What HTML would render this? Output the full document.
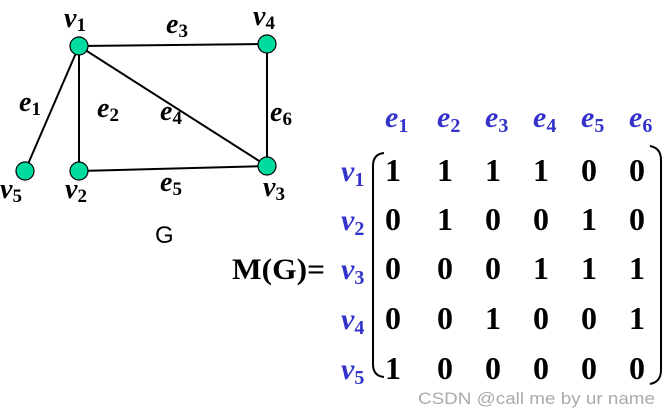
<!DOCTYPE html>
<html><head><style>body{margin:0;background:#fff}svg{display:block}</style></head><body>
<svg width="671" height="416" viewBox="0 0 671 416" xmlns="http://www.w3.org/2000/svg" font-family="Liberation Serif, serif" font-weight="bold">
<g stroke="#000" stroke-width="2">
<line x1="79" y1="46" x2="267" y2="44"/><line x1="79" y1="46" x2="79" y2="171"/><line x1="79" y1="46" x2="267" y2="166"/>
<line x1="79" y1="46" x2="25" y2="171"/><line x1="267" y1="44" x2="267" y2="166"/><line x1="79" y1="171" x2="267" y2="166"/>
</g>
<g fill="#00dba0" stroke="#000" stroke-width="1.2">
<circle cx="79" cy="46" r="9"/><circle cx="267" cy="44" r="9"/><circle cx="267" cy="166" r="9"/><circle cx="79" cy="171" r="9"/><circle cx="25" cy="171" r="9"/>
</g>
<g font-size="28" font-style="italic" fill="#000">
<text x="64" y="27">v<tspan font-size="19" font-style="normal" dy="4">1</tspan></text>
<text x="253" y="25">v<tspan font-size="19" font-style="normal" dy="4">4</tspan></text>
<text x="263" y="196">v<tspan font-size="19" font-style="normal" dy="4">3</tspan></text>
<text x="65" y="198">v<tspan font-size="19" font-style="normal" dy="4">2</tspan></text>
<text x="0" y="198">v<tspan font-size="19" font-style="normal" dy="4">5</tspan></text>
<text x="166" y="33">e<tspan font-size="19" font-style="normal" dy="4">3</tspan></text>
<text x="19" y="111">e<tspan font-size="19" font-style="normal" dy="4">1</tspan></text>
<text x="97" y="117">e<tspan font-size="19" font-style="normal" dy="4">2</tspan></text>
<text x="160" y="120">e<tspan font-size="19" font-style="normal" dy="4">4</tspan></text>
<text x="270" y="121">e<tspan font-size="19" font-style="normal" dy="4">6</tspan></text>
<text x="160" y="191">e<tspan font-size="19" font-style="normal" dy="4">5</tspan></text>
</g>
<text x="155" y="243" font-family="Liberation Sans, sans-serif" font-weight="normal" font-size="24">G</text>
<text x="232" y="279" font-size="30" textLength="93" lengthAdjust="spacingAndGlyphs">M(G)=</text>
<g font-size="30" font-style="italic" fill="#3333cc">
<text x="385" y="127">e<tspan font-size="20" font-style="normal" dy="5">1</tspan></text>
<text x="437" y="127">e<tspan font-size="20" font-style="normal" dy="5">2</tspan></text>
<text x="485" y="127">e<tspan font-size="20" font-style="normal" dy="5">3</tspan></text>
<text x="533" y="127">e<tspan font-size="20" font-style="normal" dy="5">4</tspan></text>
<text x="581" y="127">e<tspan font-size="20" font-style="normal" dy="5">5</tspan></text>
<text x="629" y="127">e<tspan font-size="20" font-style="normal" dy="5">6</tspan></text>
<text x="341" y="181">v<tspan font-size="20" font-style="normal" dy="5">1</tspan></text>
<text x="341" y="230">v<tspan font-size="20" font-style="normal" dy="5">2</tspan></text>
<text x="341" y="279">v<tspan font-size="20" font-style="normal" dy="5">3</tspan></text>
<text x="341" y="329">v<tspan font-size="20" font-style="normal" dy="5">4</tspan></text>
<text x="341" y="379">v<tspan font-size="20" font-style="normal" dy="5">5</tspan></text>
</g>
<g font-size="32" text-anchor="middle" fill="#000">
<text y="181"><tspan x="393">1</tspan><tspan x="445">1</tspan><tspan x="493">1</tspan><tspan x="541">1</tspan><tspan x="589">0</tspan><tspan x="637">0</tspan></text>
<text y="230"><tspan x="393">0</tspan><tspan x="445">1</tspan><tspan x="493">0</tspan><tspan x="541">0</tspan><tspan x="589">1</tspan><tspan x="637">0</tspan></text>
<text y="279"><tspan x="393">0</tspan><tspan x="445">0</tspan><tspan x="493">0</tspan><tspan x="541">1</tspan><tspan x="589">1</tspan><tspan x="637">1</tspan></text>
<text y="329"><tspan x="393">0</tspan><tspan x="445">0</tspan><tspan x="493">1</tspan><tspan x="541">0</tspan><tspan x="589">0</tspan><tspan x="637">1</tspan></text>
<text y="379"><tspan x="393">1</tspan><tspan x="445">0</tspan><tspan x="493">0</tspan><tspan x="541">0</tspan><tspan x="589">0</tspan><tspan x="637">0</tspan></text>
</g>
<g fill="none" stroke="#000" stroke-width="2">
<path d="M384 153 Q373 154 373 166 L373 364 Q373 376 384 377"/>
<path d="M650 146 Q661 148 661 160 L661 370 Q661 382 650 384"/>
</g>
<text x="418" y="404" font-family="Liberation Sans, sans-serif" font-weight="normal" font-size="16.5" fill="#aaa" textLength="237" lengthAdjust="spacingAndGlyphs">CSDN @call me by ur name</text>
</svg>
</body></html>
